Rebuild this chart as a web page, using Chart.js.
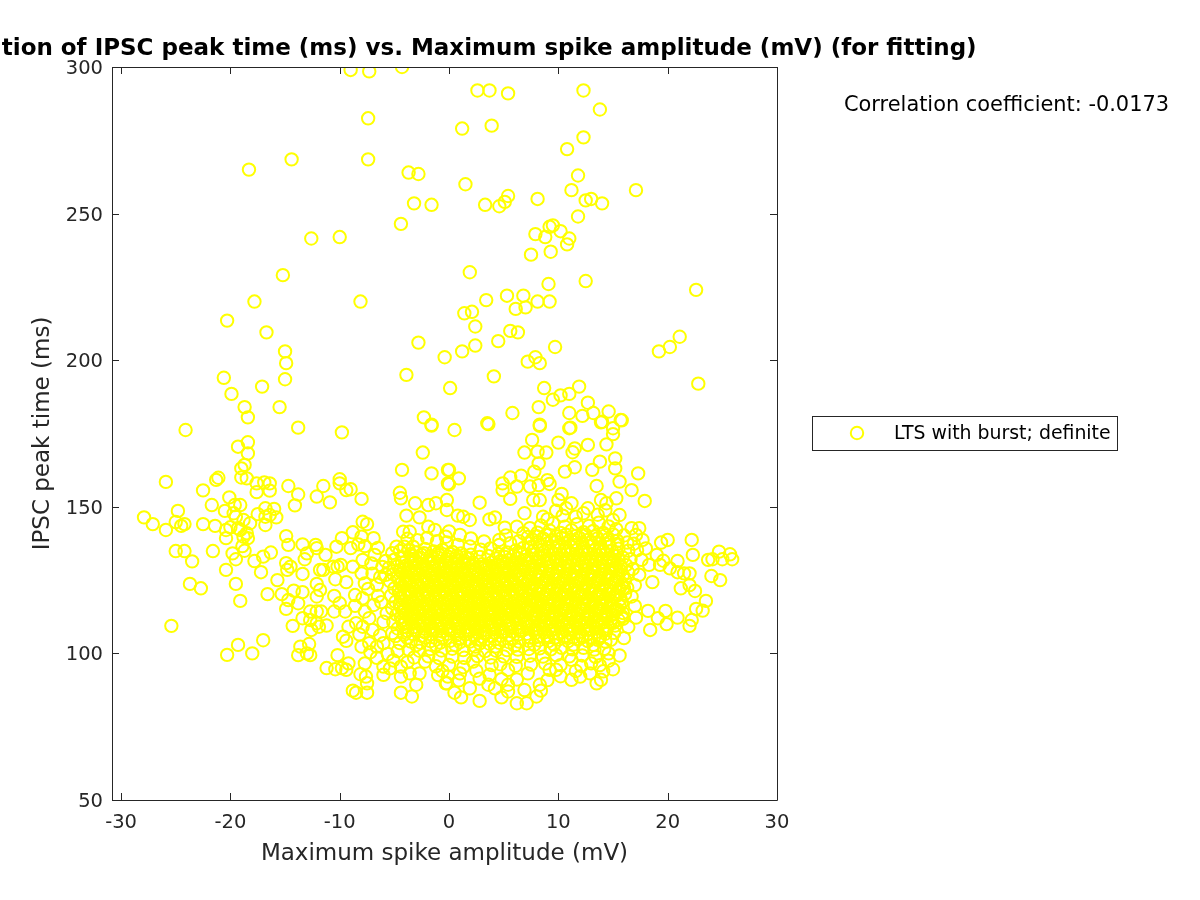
<!DOCTYPE html>
<html>
<head>
<meta charset="utf-8">
<script src="https://cdn.jsdelivr.net/npm/chart.js@4"></script>
<style>
  body { margin: 0; background: #fff; }
  canvas { display: block; }
</style>
</head>
<body>
<canvas id="chart" width="1200" height="900"></canvas>
<script>
const xTickValues = [-30, -20, -10, 0, 10, 20, 30];
const yTickValues = [50, 100, 150, 200, 250, 300];
const seriesName = "LTS with burst; definite";
const titleText = "Correlation of IPSC peak time (ms) vs. Maximum spike amplitude (mV) (for fitting)";
const corrText = "Correlation coefficient: -0.0173";

// [spike amplitude, IPSC peak time]
const upperPoints = [[-9,299],[-7.3,298.5],[-4.3,300],[2.6,292],[3.7,292],[5.4,291],[12.3,292],[13.8,285.5],[-7.4,282.5],[1.2,279],[3.9,280],[12.3,276],[10.8,272],[-14.4,268.5],[-7.4,268.5],[-18.3,265],[-3.7,264],[-2.8,263.5],[1.5,260],[11.8,263],[17.1,258],[11.2,258],[5.4,256],[8.1,255],[-3.2,253.5],[-1.6,253],[3.3,253],[4.6,252.5],[5.1,254],[12.5,254.5],[13,255],[14,253.5],[11.8,249],[-4.4,246.5],[9.5,246],[9.2,245.5],[10.2,244],[7.9,243],[11,241.5],[8.8,242],[10.8,239.5],[-12.6,241.5],[-10,242],[9.3,237],[7.5,236],[-15.2,229],[1.9,230],[12.5,227],[9.1,226],[22.6,224],[-17.8,220],[-8.1,220],[3.4,220.5],[5.3,222],[6.8,222],[8.1,220],[9.2,220],[7,218],[6.1,217.5],[1.4,216],[2.1,216.5],[-20.3,213.5],[2.4,211.5],[5.6,210],[6.3,209.5],[-16.7,209.5],[21.1,208],[-2.8,206],[2.4,205],[1.2,203],[4.5,206.5],[-15,203],[19.2,203],[20.2,204.5],[9.7,204.5],[-0.4,201],[7.9,201],[7.2,199.5],[8.3,199],[-14.9,199],[-20.6,194],[-15,193.5],[-3.9,195],[4.1,194.5],[22.8,192],[-17.1,191],[11.9,191],[0.1,190.5],[8.7,190.5],[-19.9,188.5],[10.2,188],[11,188.5],[9.5,186.5],[12.7,185.5],[-18.7,184],[-15.5,184],[8.2,184],[-18.4,180.5],[5.8,182],[11,182],[12.2,181],[13.2,182],[14.6,182.5],[-2.3,180.5],[15.8,179.5],[-1.6,178],[3.5,178.5],[14,179],[8.3,178],[11.1,177]];

const leftPoints = [[-24.1,176.2],[-13.8,177],[-9.8,175.4],[-18.4,172],[-19.3,170.5],[-18.4,168.2],[-18.7,164.3],[-19,163.1],[-19,160],[-18.5,159.7],[-25.9,158.5],[-21.1,159.9],[-21.3,159.2],[-17.6,158],[-17.6,155],[-16.9,158.3],[-16.4,158],[-16.4,155.5],[-22.5,155.6],[-14.7,157.1],[-13.8,154.2],[-20.1,153.2],[-14.1,150.5],[-11.5,157.1],[-12.1,153.5],[-10.9,151.5],[-10,159.4],[-10,158],[-9.4,155.7],[-9,156],[-8,152.7],[-21.7,150.6],[-24.8,148.6],[-27.9,146.4],[-27.1,144.1],[-25.9,142.1],[-25,144.8],[-24.5,143.5],[-24.2,144.1],[-22.5,144.1],[-21.4,143.5],[-20.5,148.6],[-19.6,150.6],[-19.1,150.6],[-19.7,147.8],[-19.5,146.6],[-20.4,142.1],[-20,143],[-20.4,139.3],[-18.8,145.5],[-18.2,144.4],[-19.1,142.1],[-18.5,141],[-18.4,139.3],[-18.8,139.8],[-19.3,142.7],[-18.9,136.6],[-18.7,135],[-25,134.9],[-24.2,134.9],[-23.5,131.4],[-21.6,134.9],[-19.8,134.1],[-19.5,132.1],[-20.4,128.5],[-23.7,123.7],[-22.7,122.2],[-19.5,123.7],[-19.1,117.9],[-25.4,109.4],[-19.3,102.9],[-17,104.5],[-20.3,99.5],[-18,100],[-16.8,149.5],[-16,149.3],[-15.8,146.4],[-17.5,147.5],[-16.8,146.6],[-16.4,147.2],[-16.8,143.8],[-14.9,140],[-14.7,137],[-16.3,134.4],[-17,133],[-17.8,131.5],[-17.2,127.7],[-15.7,125],[-16.6,120.2],[-15.3,120.2],[-14.2,121.4],[-13.4,120.9],[-13.8,117.1],[-14.9,115.2],[-14.7,118.2],[-14.3,109.4],[-13.4,137.2],[-12.2,137],[-12.1,135.9],[-13,134.1],[-13.2,132.1],[-11.3,133.6],[-10.3,136.4],[-9.8,139.3],[-8.8,141.3],[-8,139.8],[-9,135.9],[-8.3,137.2],[-7.7,136.6],[-7.9,144.9],[-7.5,144.1],[-6.9,139.3],[-14.9,130.8],[-14.5,129.6],[-14.8,128.5],[-13.4,127.1],[-11.8,128.5],[-11.5,128.5],[-12.1,123.7],[-11.8,121.6],[-12.1,119.4],[-10.5,119.6],[-10.6,129.6],[-10.2,129.6],[-9.9,130.2],[-10.4,125.3],[-9.4,124.3],[-8.8,129.6],[-8,127.3],[-7.9,131.9],[-7.1,130.7],[-6.8,133.6],[-5.8,126.8],[-6.6,123.4],[-7.7,123.9],[-8.6,119.9],[-7.9,118.8],[-6.5,119.6],[-12.7,114.3],[-12.1,114.3],[-11.7,114.3],[-13.4,112],[-12.7,111.4],[-12.1,110.3],[-11.2,109.5],[-12.6,108],[-11.9,109.1],[-10,117.1],[-10.5,114.3],[-9.5,114.3],[-9.2,109.1],[-8.5,110.3],[-7.7,114.3],[-7.9,109.1],[-9.7,105.7],[-9.4,104.3],[-8,102.3],[-7.3,103.5],[-7,108],[-5.7,113.7],[-6,110.8],[-5.2,106.9],[-6,103.5],[-6.6,102.3],[-13.6,102.3],[-12.8,103.2],[-13.8,99.4],[-13,100],[-12.7,99.4],[-10.2,99.4],[-11.2,95],[-10.4,94.6],[-9.8,95],[-9.4,94.4],[-9.2,96.6],[-7.7,96.6],[-8.8,87.3],[-8.5,86.6],[-7.5,86.6],[-8.1,92.9],[-7.6,92.1],[-7.5,89.8],[-6,95.5],[-5.4,94.9],[-6,92.7],[-4.4,95.5],[-4.4,92.1],[-3.6,93.2],[-2.7,93.2],[-2.2,97.2],[-3,89.3],[-4.4,86.6],[-3.4,85.3],[-0.2,89.8],[-4.3,162.6],[-2.4,168.5],[-1.6,161.4],[-1.6,177.7],[-0.1,162.6],[-0.1,158],[-4.5,154.8],[-4.4,152.9],[-3.1,151.2],[-1.9,150.6],[-1.2,151.2],[-0.2,152.3],[-0.2,148.9],[-3.9,147],[-2.7,146.4],[-4.2,141.5],[-3.6,141.5],[-4.8,136.4],[-4.1,136.4],[-3.3,136.4],[-1.9,143.2],[-1.3,142.1]];

const rightPoints = [[0.5,176.2],[3.6,178.2],[8.3,177.6],[11,176.8],[13.9,178.8],[15,176.8],[15,174.8],[15.7,179.6],[7.6,172.8],[10,171.9],[12.7,171.1],[14.4,171.3],[11.5,169.9],[11.3,168.6],[6.9,168.5],[8.1,168.8],[8.9,168.5],[8.2,164.8],[7.8,162],[13.8,165.4],[15.2,166.5],[15.2,163.1],[13.1,162.6],[11.5,163.5],[10.6,162],[17.3,161.4],[0,162.6],[0.9,159.7],[0,157.7],[5.6,160],[4.9,158],[4.9,155.7],[6.2,156.9],[6.6,160.6],[5.6,152.7],[7.4,156.9],[8.2,157.4],[9,159.1],[9.2,157.8],[10.3,154.4],[13.5,157.1],[15.6,158.6],[16.7,155.7],[17.9,152],[2.8,151.4],[0.8,147],[1.9,145.5],[1.3,146.6],[3.7,145.7],[4.2,146.4],[5.1,142.9],[4.6,138.7],[4.6,137],[-0.3,139.8],[7.7,152.3],[8.3,152.3],[6.9,147.8],[8.6,146.6],[9,145.8],[9.8,148.7],[10.7,149.5],[10,152.3],[12.7,149.5],[13.9,152.3],[15.3,152.9],[14.4,151.2],[15.6,147.2],[15,145.5],[7.4,142.7],[6.8,141],[11.6,146.6],[16.7,142.7],[17.4,142.7],[17.7,138.7],[17.1,140.4],[19.4,137.8],[20,138.7],[22.2,138.7],[19,133.6],[19.6,131.6],[20.9,131.5],[22.3,133.6],[23.7,131.9],[24.7,134.7],[25.7,133.8],[25.9,132.1],[25,132.1],[24.1,132.1],[19.3,130.2],[18.3,130.2],[20.2,129],[20.9,127.7],[18.6,124.3],[22,127.3],[21.5,127.3],[21.2,122.2],[22,123.3],[22.5,121.3],[24,126.4],[24.8,125],[17.6,131.9],[17.4,126.8],[17,123.3],[16.7,119.4],[23.5,117.9],[22.6,115.2],[23.2,114.6],[22.2,111.4],[22,109.4],[20.9,112.2],[19.8,114.5],[19.1,112],[18.2,114.5],[17.1,112.2],[15.9,111.8],[18.4,108],[19.9,110],[15.6,99.3],[15,94.6],[14.6,100],[14.8,104.6],[2.8,83.8],[6.2,83],[7.1,83],[8,85.3],[8.4,87.3],[4.8,85],[1.1,85],[0.5,86.6],[-0.3,89.8],[1.9,88.1],[3.6,89.3],[4.2,88.1],[5.4,87],[5.4,89.3],[8.3,89.3],[11.2,91],[13.5,89.8],[13.9,91],[12,92.1],[13.8,96],[13,96.6],[11.2,97.8],[9.8,94.4],[9.2,94.4],[7.2,93.2],[5.4,94.4],[3.9,96],[3.7,92.7],[2.2,97.2],[1,93.2],[-0.1,92.1]];

// the solid middle of the cloud, estimated since single circles cannot be told apart there
const densePoints = [
[8.4,143.6],[9.5,144.4],[10.6,143.2],[11.7,144.1],[12.8,143.5],[13.7,144.6],[14.6,143.3],[15.3,142.4],[7.2,139.7],[8.1,141.2],[9.2,141.9],[10.2,141.1],[11.2,142],[12.3,141.3],[13.2,141.8],[14.1,141.1],[15,140.6],[16,140.2],
[-3.8,139.1],[-2.9,138.6],[-2,139.4],[-1.1,138.3],[-0.2,137.8],[0.8,137],[1.9,136.5],[2.9,135.4],[3.8,135.8],[5.6,137.6],[6.4,138.3],[7.6,138.9],[8.6,139.2],[9.4,138.6],[10.3,139.4],[11.1,138.8],[11.9,139.5],[12.7,138.7],[13.6,139.3],[14.5,138.9],[15.4,138.4],[16.3,137.8],
[-5.2,134.2],[-4.5,134.9],[-3.7,135.2],[-3,134.4],[-2.2,135.6],[-1.4,134.8],[-0.6,135.3],[0.3,134.6],[1.1,134.1],[2,133.7],[2.8,132.9],[3.6,133.2],[4.5,133.9],[5.3,134.4],[6.1,135.1],[6.8,136],[7.5,136.3],[8.3,136.8],[9.1,136.1],[9.9,136.6],[10.7,136.2],[11.5,136.9],[12.3,136.1],[13.1,136.7],[13.9,136],[14.7,136.4],[15.5,135.7],[16.4,135],
[-5.8,131.5],[-5,132],[-4.2,132.7],[-3.4,132],[-2.6,132.6],[-1.8,131.9],[-1,132.7],[-0.2,132.1],[0.6,132.4],[1.4,131.6],[2.2,130.9],[3,130.4],[3.9,131],[4.7,131.5],[5.5,131.9],[6.3,132.5],[7.1,133.3],[7.9,133.8],[8.7,133.4],[9.5,134],[10.3,133.6],[11.1,134.2],[11.9,133.5],[12.7,134.1],[13.5,133.6],[14.3,134],[15.1,133.3],[15.9,132.7],[16.6,132.1],
[-5.5,129.2],[-4.7,129.8],[-3.9,130],[-3.1,129.4],[-2.3,130.1],[-1.5,129.6],[-0.7,130.2],[0.1,129.5],[0.9,129.9],[1.7,129.1],[2.5,128.5],[3.4,128.7],[4.2,129.2],[5,129.5],[5.8,130],[6.6,130.6],[7.4,131],[8.2,131.4],[9,130.9],[9.8,131.5],[10.6,131],[11.4,131.6],[12.2,131.1],[13,131.5],[13.8,131],[14.6,131.4],[15.4,130.8],[16.2,130.1],
[-5.1,127],[-4.3,127.4],[-3.5,127.6],[-2.7,127],[-1.9,127.7],[-1.1,127.1],[-0.3,127.8],[0.5,127.2],[1.3,127.5],[2.1,126.7],[2.9,126.2],[3.7,126.4],[4.5,126.9],[5.3,127.2],[6.1,127.6],[6.9,128.2],[7.7,128.7],[8.5,128.9],[9.3,128.3],[10.1,129],[10.9,128.5],[11.7,129.1],[12.5,128.5],[13.3,129],[14.1,128.4],[14.9,128.8],[15.7,128.2],[16.4,127.5],
[-5.4,124.6],[-4.6,125.1],[-3.8,125.2],[-3,124.7],[-2.2,125.3],[-1.4,124.8],[-0.6,125.4],[0.2,124.9],[1,125.2],[1.8,124.5],[2.6,124],[3.4,124.2],[4.2,124.6],[5,124.9],[5.8,125.3],[6.6,125.7],[7.4,126.2],[8.2,126.5],[9,126],[9.8,126.6],[10.6,126.1],[11.4,126.7],[12.2,126.1],[13,126.6],[13.8,126],[14.6,126.5],[15.4,125.8],[16.1,125.1],
[-5,122.2],[-4.2,122.8],[-3.4,122.9],[-2.6,122.3],[-1.8,122.9],[-1,122.4],[-0.2,123],[0.6,122.5],[1.4,122.8],[2.2,122.2],[3,121.8],[3.8,122],[4.6,122.4],[5.4,122.6],[6.2,123],[7,123.4],[7.8,123.8],[8.6,124.1],[9.4,123.6],[10.2,124.2],[11,123.7],[11.8,124.3],[12.6,123.7],[13.4,124.2],[14.2,123.6],[15,124],[15.8,123.4],[16.3,122.4],
[-5.3,119.8],[-4.5,120.4],[-3.7,120.6],[-2.9,120],[-2.1,120.6],[-1.3,120.1],[-0.5,120.7],[0.3,120.2],[1.1,120.5],[1.9,119.8],[2.7,119.5],[3.5,119.7],[4.3,120],[5.1,120.3],[5.9,120.6],[6.7,121],[7.5,121.4],[8.3,121.7],[9.1,121.2],[9.9,121.8],[10.7,121.3],[11.5,121.9],[12.3,121.3],[13.1,121.8],[13.9,121.2],[14.7,121.6],[15.5,121],[16.1,120.3],
[-4.9,117.6],[-4.1,118],[-3.3,118.2],[-2.5,117.6],[-1.7,118.3],[-0.9,117.8],[-0.1,118.4],[0.7,117.9],[1.5,118.2],[2.3,117.5],[3.1,117.2],[3.9,117.4],[4.7,117.7],[5.5,117.9],[6.3,118.3],[7.1,118.6],[7.9,119],[8.7,119.3],[9.5,118.8],[10.3,119.4],[11.1,118.9],[11.9,119.5],[12.7,118.9],[13.5,119.4],[14.3,118.8],[15.1,119.2],[15.7,118.6],
[-5.2,115.3],[-4.4,115.7],[-3.6,115.9],[-2.8,115.3],[-2,115.9],[-1.2,115.5],[-0.4,116.1],[0.4,115.6],[1.2,115.9],[2,115.3],[2.8,114.9],[3.6,115.1],[4.4,115.4],[5.2,115.6],[6,116],[6.8,116.3],[7.6,116.6],[8.4,116.9],[9.2,116.4],[10,117],[10.8,116.5],[11.6,117.1],[12.4,116.5],[13.2,117],[14,116.4],[14.8,116.8],[15.6,116.2],
[-4.8,113.2],[-4,113.5],[-3.2,113.7],[-2.4,113.1],[-1.6,113.6],[-0.8,113.2],[0,113.8],[0.8,113.3],[1.6,113.6],[2.4,113],[3.2,112.6],[4,112.8],[4.8,113.1],[5.6,113.4],[6.4,113.7],[7.2,114],[8,114.3],[8.8,114.5],[9.6,114],[10.4,114.6],[11.2,114.1],[12,114.7],[12.8,114.1],[13.6,114.6],[14.4,114],[15.2,114.4],[15.9,113.8],
[-5.1,110.8],[-4.3,111.2],[-3.5,111.4],[-2.7,110.8],[-1.9,111.3],[-1.1,110.9],[-0.3,111.5],[0.5,111],[1.3,111.3],[2.1,110.7],[2.9,110.3],[3.7,110.5],[4.5,110.8],[5.3,111],[6.1,111.3],[6.9,111.6],[7.7,111.9],[8.5,112.2],[9.3,111.7],[10.1,112.2],[10.9,111.7],[11.7,112.3],[12.5,111.7],[13.3,112.2],[14.1,111.6],[14.9,112],[15.5,111.4],
[-4.7,108.5],[-3.9,108.9],[-3.1,109],[-2.3,108.4],[-1.5,109],[-0.7,108.6],[0.1,109.1],[0.9,108.6],[1.7,108.9],[2.5,108.3],[3.3,108],[4.1,108.2],[4.9,108.5],[5.7,108.7],[6.5,108.9],[7.3,109.2],[8.1,109.5],[8.9,109.8],[9.7,109.3],[10.5,109.8],[11.3,109.3],[12.1,109.9],[12.9,109.3],[13.7,109.8],[14.5,109.2],[15.2,109.5],
[-4.9,105.9],[-4.1,106.4],[-3.3,106.6],[-2.5,106],[-1.7,106.6],[-0.9,106.2],[-0.1,106.7],[0.7,106.2],[1.5,106.5],[2.3,105.9],[3.1,105.6],[3.9,105.8],[4.7,106],[5.5,106.2],[6.3,106.4],[7.1,106.7],[7.9,107],[8.7,107.2],[9.5,106.8],[10.3,107.3],[11.1,106.8],[11.9,107.3],[12.7,106.8],[13.5,107.3],[14.3,106.7],[15.1,107],
[-4.5,103.5],[-3.5,104],[-2.6,103.6],[-1.7,104.2],[-0.8,103.7],[0.1,104.3],[1,103.8],[1.9,104],[2.8,103.4],[3.7,103.3],[4.6,103.6],[5.5,103.8],[6.4,104],[7.3,104.3],[8.2,104.5],[9.1,104.2],[10,104.7],[10.9,104.2],[11.8,104.7],[12.7,104.2],[13.6,104.6],[14.3,104],
[-4.7,100.8],[-3.7,101.3],[-2.7,100.9],[-1.7,101.5],[-0.7,101],[0.3,101.6],[1.3,101.1],[2.3,101.3],[3.3,100.8],[4.3,100.9],[5.3,101.1],[6.3,101.3],[7.3,101.5],[8.3,101.7],[9.3,101.4],[10.3,101.9],[11.3,101.4],[12.3,101.9],[13.3,101.3],[14.2,101.6],
[-3.2,98.6],[-1.9,99],[-0.9,98.4],[0.3,98.9],[1.4,98.5],[2.6,99.1],[3.8,98.6],[5,99],[6.2,98.8],[7.4,99.2],[8.6,98.9],[9.8,99.4],[11,99],[12.2,99.3],[13.4,98.8],
[-1.2,95.6],[0,96.1],[1.3,95.3],[4.7,96.3],[6.1,95.8],[7.5,96.2],[8.8,96.5],[10.2,96],[12.1,95.7],[14.1,93.9]
];

// second pass over the same solid area, between the rows above
const coreFill = [
[7.7,135],[8.5,135.3],[9.3,135],[10.1,135.4],[10.9,134.9],[11.7,135.3],[12.5,134.9],[13.3,135.2],[14.1,134.8],[14.9,135],[6.7,133.8],
[-3.3,133.2],[-2.5,133.6],[-1.7,133.1],[-0.9,133.5],[-0.1,133],[0.7,133.3],[1.5,132.8],[4.3,132.4],[5.1,132.9],[5.9,133.3],[7.5,132.3],[8.3,132.6],[9.1,132.2],[9.9,132.7],[10.7,132.3],[11.5,132.8],[12.3,132.3],[13.1,132.7],[13.9,132.2],[14.7,132.5],[15.5,131.9],
[-4.3,130.9],[-3.5,131],[-2.7,130.7],[-1.9,131],[-1.1,130.6],[-0.3,131],[0.5,130.6],[1.3,130.8],[2.1,129.9],[2.9,129.5],[3.7,129.9],[4.5,130.3],[5.3,130.7],[6.1,131],[6.9,131.7],[7.7,129.9],[8.5,130.1],[9.3,129.8],[10.1,130.2],[10.9,129.8],[11.7,130.3],[12.5,129.8],[13.3,130.2],[14.1,129.7],[14.9,130],[15.7,129.5],
[-4.5,128.4],[-3.7,128.7],[-2.9,128.2],[-2.1,128.7],[-1.3,128.3],[-0.5,128.8],[0.3,128.4],[1.1,128.6],[1.9,127.9],[2.7,127.4],[3.5,127.6],[4.3,128],[5.1,128.4],[5.9,128.8],[6.7,129.3],[7.5,127.4],[8.3,127.7],[9.1,127.2],[9.9,127.8],[10.7,127.3],[11.5,127.9],[12.3,127.3],[13.1,127.8],[13.9,127.2],[14.7,127.6],[15.5,127],
[-4.7,126.2],[-3.9,126.4],[-3.1,125.9],[-2.3,126.4],[-1.5,126],[-0.7,126.5],[0.1,126],[0.9,126.3],[1.7,125.7],[2.5,125.2],[3.3,125.4],[4.1,125.7],[4.9,126],[5.7,126.4],[6.5,126.9],[7.3,125],[8.1,125.3],[8.9,124.8],[9.7,125.4],[10.5,124.9],[11.3,125.5],[12.1,124.9],[12.9,125.4],[13.7,124.8],[14.5,125.2],[15.3,124.7],
[-4.4,123.8],[-3.6,124],[-2.8,123.5],[-2,124.1],[-1.2,123.6],[-0.4,124.2],[0.4,123.7],[1.2,124],[2,123.3],[2.8,122.9],[3.6,123.1],[4.4,123.5],[5.2,123.7],[6,124.1],[6.8,124.5],[7.6,122.6],[8.4,122.9],[9.2,122.4],[10,123],[10.8,122.5],[11.6,123.1],[12.4,122.5],[13.2,123],[14,122.4],[14.8,122.8],[15.6,122.2],
[-4.6,121.6],[-3.8,121.7],[-3,121.2],[-2.2,121.8],[-1.4,121.3],[-0.6,121.9],[0.2,121.4],[1,121.6],[1.8,121],[2.6,120.6],[3.4,120.9],[4.2,121.2],[5,121.4],[5.8,121.8],[6.6,122.2],[7.4,120.2],[8.2,120.5],[9,120],[9.8,120.6],[10.6,120.1],[11.4,120.7],[12.2,120.1],[13,120.6],[13.8,120],[14.6,120.4],[15.4,119.8],
[-4.4,119.2],[-3.6,119.4],[-2.8,118.9],[-2,119.5],[-1.2,119],[-0.4,119.5],[0.4,119],[1.2,119.3],[2,118.7],[2.8,118.3],[3.6,118.5],[4.4,118.8],[5.2,119.1],[6,119.4],[6.8,119.8],[7.6,117.8],[8.4,118.1],[9.2,117.6],[10,118.2],[10.8,117.7],[11.6,118.3],[12.4,117.7],[13.2,118.2],[14,117.6],[14.8,118],
[-4.5,116.8],[-3.7,117],[-2.9,116.5],[-2.1,117],[-1.3,116.6],[-0.5,117.2],[0.3,116.7],[1.1,117],[1.9,116.4],[2.7,116],[3.5,116.3],[4.3,116.5],[5.1,116.8],[5.9,117.1],[6.7,117.4],[7.5,115.4],[8.3,115.7],[9.1,115.2],[9.9,115.8],[10.7,115.3],[11.5,115.9],[12.3,115.3],[13.1,115.8],[13.9,115.2],[14.7,115.6],[15.4,115],
[-4.2,114.6],[-3.4,114.8],[-2.6,114.2],[-1.8,114.7],[-1,114.3],[-0.2,114.9],[0.6,114.4],[1.4,114.7],[2.2,114.1],[3,113.7],[3.8,113.9],[4.6,114.2],[5.4,114.5],[6.2,114.8],[7,115.1],[7.8,113],[8.6,113.3],[9.4,112.9],[10.2,113.4],[11,112.9],[11.8,113.5],[12.6,112.9],[13.4,113.4],[14.2,112.8],[15,113.2],
[-4.4,112.3],[-3.6,112.5],[-2.8,112],[-2,112.4],[-1.2,112],[-0.4,112.6],[0.4,112.1],[1.2,112.4],[2,111.8],[2.8,111.5],[3.6,111.6],[4.4,111.9],[5.2,112.2],[6,112.5],[6.8,112.8],[7.6,110.7],[8.4,111],[9.2,110.5],[10,111],[10.8,110.5],[11.6,111.1],[12.4,110.5],[13.2,111],[14,110.4],[14.8,110.8],
[-4.2,110],[-3.4,110.2],[-2.6,109.6],[-1.8,110.1],[-1,109.7],[-0.2,110.3],[0.6,109.8],[1.4,110.1],[2.2,109.5],[3,109.1],[3.8,109.3],[4.6,109.6],[5.4,109.8],[6.2,110.1],[7,110.4],[7.8,108.2],[8.6,108.5],[9.4,108],[10.2,108.6],[11,108.1],[11.8,108.7],[12.6,108.1],[13.4,108.6],[14.2,108],
[-3.8,107.6],[-3,107.8],[-2.2,107.2],[-1.4,107.8],[-0.6,107.4],[0.2,107.9],[1,107.4],[1.8,107.7],[2.6,107.1],[3.4,106.8],[4.2,107],[5,107.2],[5.8,107.4],[6.6,107.6],[8.2,105.8],[9,106],[9.8,105.5],[10.6,106],[11.4,105.5],[12.2,106],[13,105.5],[13.8,105.9]
];

// third pass for the gaps still showing in the solid area
const gapFill = [
[8,140],[8.9,140.4],[9.8,140],[10.7,140.5],[11.6,140.1],[12.5,140.4],[13.4,140],[14.3,140.3],[7.3,137.6],[8.1,137.9],[9,137.5],[9.8,138],[10.6,137.6],[11.4,138],[12.2,137.6],[13,138],[13.8,137.5],[14.6,137.8],[15.4,137.3],
[-3.5,133.9],[-2.3,134.2],[-1,134.1],[0.1,133.9],[1.8,132.3],[4.9,131.2],[6.5,134.2],[8.7,134.6],[10.5,134.9],[12.1,134.7],[13.7,135],[15.3,134.4],
[-3.1,131.4],[-1.4,131.3],[0.2,131.2],[1.8,130.5],[3.3,129.8],[5.7,130.7],[7.1,132],[8.9,131.9],[10.3,132.1],[11.9,132],[13.5,132],[15.1,131.6],
[-4.1,129],[-2.5,129.1],[-0.9,129],[0.7,128.8],[2.3,127.8],[3.9,128],[5.5,128.8],[7.3,129.6],[8.9,129.5],[10.5,129.5],[12.1,129.6],[13.7,129.4],[15.3,128.9],
[-3.3,126.6],[-1.7,126.7],[-0.1,126.6],[1.5,126.4],[3.1,125],[4.7,125.8],[6.3,126.5],[7.9,127.1],[9.5,127.1],[11.1,127],[12.7,127],[14.3,127],[15.9,126.6],
[-4,124.2],[-2.4,124.2],[-0.8,124.3],[0.8,124.2],[2.4,123],[4,123.4],[5.6,124.1],[7.2,124.7],[8.8,125],[10.4,125.1],[12,125],[13.6,125.1],[15.2,124.9],
[-3.2,122],[-1.6,122.1],[0,122.1],[1.6,122],[3.2,120.6],[4.8,121.2],[6.4,122],[8,122.4],[9.6,122.5],[11.2,122.5],[12.8,122.5],[14.4,122.4],[16,122.2],
[-4,119.9],[-2.4,119.8],[-0.8,119.8],[0.8,119.8],[2.4,118.6],[4,118.9],[5.6,119.6],[7.2,120],[8.8,120.1],[10.4,120.2],[12,120.1],[13.6,120],[15.2,120],
[-3.2,117.3],[-1.6,117.4],[0,117.4],[1.6,117.3],[3.2,116],[4.8,116.6],[6.4,117.2],[8,117.6],[9.6,117.7],[11.2,117.7],[12.8,117.7],[14.4,117.5],[15.8,117.3],
[-4,115],[-2.4,115.2],[-0.8,115],[0.8,115.1],[2.4,113.9],[4,114.2],[5.6,114.9],[7.2,115.4],[8.8,115.5],[10.4,115.4],[12,115.5],[13.6,115.3],[15.2,115.2],
[-3.2,112.8],[-1.6,112.8],[0,112.8],[1.6,112.7],[3.2,111.4],[4.8,112],[6.4,112.5],[8,113],[9.6,113],[11.2,113],[12.8,113],[14.4,112.9],[15.8,112.7],
[-4,110.6],[-2.4,110.4],[-0.8,110.4],[0.8,110.3],[2.4,109.2],[4,109.6],[5.6,110.1],[7.2,110.6],[8.8,110.7],[10.4,110.7],[12,110.7],[13.6,110.6],[15,110.4],
[-3.2,108],[-1.6,108],[0,108],[1.6,107.9],[3.2,106.9],[4.8,107.3],[6.4,107.8],[8,108.1],[9.6,108.2],[11.2,108.2],[12.8,108.2],[14.4,108.1],
[-3.8,105.2],[-2.2,105.4],[-0.6,105.3],[1,105.2],[2.6,104.7],[4.2,104.8],[5.8,105.2],[7.4,105.4],[9,105.5],[10.6,105.5],[12.2,105.5],[13.8,105.4],
[-3,102.8],[-1.2,102.8],[0.6,102.7],[2.4,102.3],[4.2,102.3],[6,102.6],[7.8,102.9],[9.6,103],[11.4,103],[13.2,102.9]
];

// more circles on the fringe of the cloud
const fringePoints = [[-6.5,136],[-6.1,129.5],[-7,127.2],[-6.3,126],[-7.4,122],[-6.9,116.5],[-6.2,117.5],[-8.6,116.2],[-7.3,112],[-8.2,106.5],[-6.3,106.2],[-5.6,99.8],[-6.6,98.5],[-7.2,100.4],[-5.1,97.6],[-3.8,97],[-1,92.6],[0.9,90.8],[2.8,91.4],[4.8,91.2],[6.2,91.1],[6.9,87.5],[9,90.9],[10.2,92.2],[11.6,94],[12.9,93.2],[14.6,97.5],[-0.6,94],[2.5,94.1],[16,105.2],[16.4,109],[17,116.2],[16.8,128.8],[17.2,135.2],[16.9,137.4],[18,135.8],[10.4,147],[12.3,147.8],[13.6,147.3],[14.3,148.8],[11.2,151.2],[6.2,143.2],[5.2,140.2],[2,139.2],[1,140.4],[3.2,138.2],[0,141.6]];

const allPoints = [...upperPoints, ...leftPoints, ...rightPoints, ...densePoints, ...coreFill, ...gapFill, ...fringePoints];

const textColor = "#262626";
const fontFamily = "'DejaVu Sans', sans-serif";

const frame = {
  id: "frame",
  afterDraw(chart) {
    const ctx = chart.ctx;
    const { left, right, top, bottom } = chart.chartArea;
    const tick = 7;
    ctx.save();
    ctx.strokeStyle = textColor;
    ctx.lineWidth = 1;
    ctx.beginPath();
    ctx.rect(Math.round(left) + 0.5, Math.round(top) + 0.5, Math.round(right - left), Math.round(bottom - top));
    xTickValues.forEach(v => {
      const px = Math.round(chart.scales.x.getPixelForValue(v)) + 0.5;
      ctx.moveTo(px, bottom); ctx.lineTo(px, bottom - tick);
      ctx.moveTo(px, top); ctx.lineTo(px, top + tick);
    });
    yTickValues.forEach(v => {
      const py = Math.round(chart.scales.y.getPixelForValue(v)) + 0.5;
      ctx.moveTo(left, py); ctx.lineTo(left + tick, py);
      ctx.moveTo(right, py); ctx.lineTo(right - tick, py);
    });
    ctx.stroke();

    // title runs off the left edge of the page, so chart.js title would squeeze it
    ctx.textBaseline = "middle";
    ctx.fillStyle = "#000";
    ctx.font = "bold 23px " + fontFamily;
    ctx.textAlign = "center";
    ctx.fillText(titleText, 442, 49);

    ctx.textAlign = "left";
    ctx.font = "20.9px " + fontFamily;
    ctx.fillText(corrText, 844, 106);

    // legend box
    ctx.strokeStyle = textColor;
    ctx.strokeRect(812.5, 416.5, 305, 34);
    ctx.fillStyle = "#000";
    ctx.font = "18.9px " + fontFamily;
    ctx.fillText(seriesName, 894, 434);
    ctx.strokeStyle = "#ffff00";
    ctx.lineWidth = 2;
    ctx.beginPath();
    ctx.arc(857, 433, 6.2, 0, Math.PI * 2);
    ctx.stroke();
    ctx.restore();
  }
};

new Chart(document.getElementById("chart"), {
  type: "scatter",
  data: {
    datasets: [{
      label: seriesName,
      data: allPoints.map(p => ({ x: p[0], y: p[1] })),
      showLine: false,
      backgroundColor: "rgba(0,0,0,0)",
      borderColor: "#ffff00",
      borderWidth: 2,
      pointRadius: 6.2,
      pointHoverRadius: 6.2
    }]
  },
  options: {
    responsive: false,
    animation: false,
    devicePixelRatio: 1,
    layout: { padding: { left: 0, top: 67, right: 423, bottom: 0 } },
    plugins: { legend: { display: false }, tooltip: { enabled: false }, title: { display: false } },
    scales: {
      x: {
        type: "linear",
        min: -30.83,
        max: 30,
        afterBuildTicks: s => { s.ticks = xTickValues.map(v => ({ value: v })); },
        afterFit: s => { s.height = 100; },
        grid: { display: false, drawTicks: false },
        border: { display: false },
        ticks: { color: textColor, maxRotation: 0, padding: 11, font: { family: fontFamily, size: 19.5 } },
        title: { display: true, text: "Maximum spike amplitude (mV)", color: textColor, padding: { top: 0, bottom: 32 }, font: { family: fontFamily, size: 23 } }
      },
      y: {
        type: "linear",
        min: 50,
        max: 300,
        afterBuildTicks: s => { s.ticks = yTickValues.map(v => ({ value: v })); },
        afterFit: s => { s.width = 112; },
        grid: { display: false, drawTicks: false },
        border: { display: false },
        ticks: { color: textColor, padding: 9, labelOffset: 2, font: { family: fontFamily, size: 19.5 } },
        title: { display: true, text: "IPSC peak time (ms)", color: textColor, padding: { top: 29, bottom: 0 }, font: { family: fontFamily, size: 23 } }
      }
    }
  },
  plugins: [frame]
});
</script>
</body>
</html>
